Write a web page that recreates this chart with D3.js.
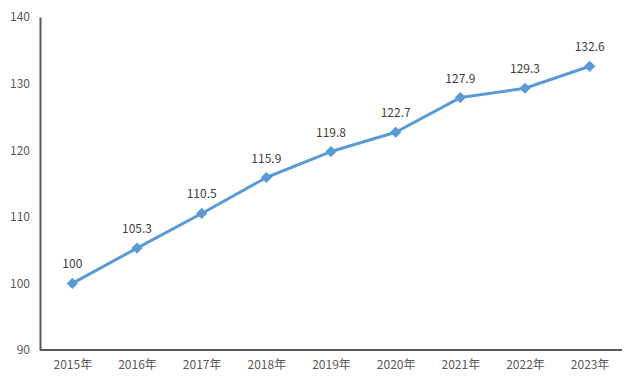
<!DOCTYPE html>
<html>
<head>
<meta charset="utf-8">
<script src="https://cdn.jsdelivr.net/npm/d3@7"></script>
<style>
  body { margin: 0; background: #fff; }
  svg text { font-family: "Noto Sans CJK SC", "Liberation Sans", sans-serif; }
</style>
</head>
<body>
<svg id="chart" width="640" height="388"></svg>
<script>
let years = ["2015年", "2016年", "2017年", "2018年", "2019年", "2020年", "2021年", "2022年", "2023年"];
let values = [100, 105.3, 110.5, 115.9, 119.8, 122.7, 127.9, 129.3, 132.6];
let yTicks = [90, 100, 110, 120, 130, 140];

let svg = d3.select("#chart");
let plotLeft = 40, plotRight = 622, plotTop = 17, plotBottom = 350;
let lineColor = "#5b9bd5";
let axisColor = "#595959";
let textColor = "#595959";

let x = d3.scalePoint()
  .domain(years)
  .range([plotLeft, plotRight])
  .padding(0.5);

let y = d3.scaleLinear()
  .domain([90, 140])
  .range([plotBottom, plotTop]);

// y axis
let yAxis = svg.append("g")
  .attr("transform", "translate(" + plotLeft + ",0)")
  .call(d3.axisLeft(y).tickValues(yTicks).tickSize(0).tickPadding(10));
yAxis.select(".domain").attr("stroke", axisColor).attr("stroke-width", 2);
yAxis.selectAll("text")
  .style("font-size", "12px")
  .attr("fill", textColor);

// x axis
let xAxis = svg.append("g")
  .attr("transform", "translate(0," + plotBottom + ")")
  .call(d3.axisBottom(x).tickSize(0).tickPadding(10));
xAxis.select(".domain")
  .attr("d", "M" + plotLeft + ",0H" + plotRight)
  .attr("stroke", axisColor).attr("stroke-width", 2);
xAxis.selectAll("text")
  .style("font-size", "12px")
  .attr("fill", textColor);

let pts = years.map((d, i) => ({ year: d, value: values[i] }));

// line
svg.append("path")
  .datum(pts)
  .attr("fill", "none")
  .attr("stroke", lineColor)
  .attr("stroke-width", 3)
  .attr("stroke-linejoin", "round")
  .attr("d", d3.line().x(d => x(d.year)).y(d => y(d.value)));

// diamond markers
svg.selectAll(".marker")
  .data(pts)
  .enter()
  .append("path")
  .attr("d", d3.symbol().type(d3.symbolDiamond2).size(80))
  .attr("transform", d => "translate(" + x(d.year) + "," + y(d.value) + ")")
  .attr("fill", lineColor);

// value labels
svg.selectAll(".label")
  .data(pts)
  .enter()
  .append("text")
  .attr("x", d => x(d.year))
  .attr("y", d => y(d.value) - 15)
  .attr("text-anchor", "middle")
  .style("font-size", "12px")
  .attr("fill", "#404040")
  .text(d => d.value);
</script>
</body>
</html>
